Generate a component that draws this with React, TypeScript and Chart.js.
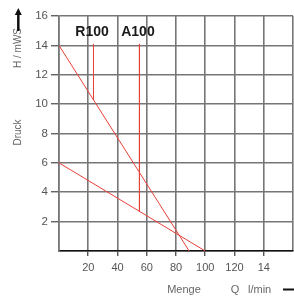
import React, { useEffect, useRef } from 'react';
import { Chart, registerables } from 'chart.js';

Chart.register(...registerables);

// ---- data ----
const flowR100 = [0, 89];
const headR100 = [14, 0];
const flowA100 = [0, 100];
const headA100 = [6, 0];

const markerNames = ['R100', 'A100'];
const markerFlow = [23.6, 55];
const markerTop = [14.1, 14.1];
const markerBottom = [10.3, 2.7];
const markerLabelHead = 14.9;

const xTickValues = [20, 40, 60, 80, 100, 120, 140];
const xTickLabels = ['20', '40', '60', '80', '100', '120', '14'];
const yTickValues = [2, 4, 6, 8, 10, 12, 14, 16];
const yTickLabels = ['2', '4', '6', '8', '10', '12', '14', '16'];

const yTitle = 'H / mWS';
const yTitle2 = 'Druck';
const xTitle = 'Menge';
const xUnitSymbol = 'Q';
const xUnit = 'l/min';

const FONT = '"Liberation Sans", Arial, Helvetica, sans-serif';
const RED = '#e8403a';
const GRID = '#767676';

const toPoints = (xs: number[], ys: number[]) => xs.map((x, i) => ({ x, y: ys[i] }));

const decorPlugin = {
  id: 'decor',
  afterDraw(chart: any) {
    const ctx = chart.ctx;
    const xs = chart.scales.x;
    const ys = chart.scales.y;
    ctx.save();

    // marker labels
    ctx.fillStyle = '#1a1a1a';
    ctx.font = `bold 14px ${FONT}`;
    ctx.textAlign = 'center';
    ctx.textBaseline = 'middle';
    markerNames.forEach((name, i) => {
      ctx.fillText(name, xs.getPixelForValue(markerFlow[i]) - 1.5, ys.getPixelForValue(markerLabelHead));
    });

    // y titles (rotated)
    ctx.fillStyle = '#666';
    ctx.save();
    ctx.translate(18.5, 48);
    ctx.rotate(-Math.PI / 2);
    ctx.font = `10px ${FONT}`;
    ctx.fillText(yTitle, 0, 0);
    ctx.restore();

    ctx.save();
    ctx.translate(18, 132.5);
    ctx.rotate(-Math.PI / 2);
    ctx.font = `10px ${FONT}`;
    ctx.fillText(yTitle2, 0, 0);
    ctx.restore();

    // arrow
    ctx.strokeStyle = '#111';
    ctx.fillStyle = '#111';
    ctx.lineWidth = 2.5;
    ctx.beginPath();
    ctx.moveTo(18.3, 31);
    ctx.lineTo(18.3, 13);
    ctx.stroke();
    ctx.beginPath();
    ctx.moveTo(18.3, 8);
    ctx.lineTo(14.8, 15);
    ctx.lineTo(21.8, 15);
    ctx.closePath();
    ctx.fill();

    // x titles
    ctx.fillStyle = '#666';
    ctx.font = `11px ${FONT}`;
    ctx.textAlign = 'center';
    ctx.fillText(xTitle, 184, 289.5);
    ctx.fillText(xUnitSymbol, 235, 289.5);
    ctx.textAlign = 'left';
    ctx.fillText(xUnit, 248, 289.5);

    // dash
    ctx.strokeStyle = '#111';
    ctx.lineWidth = 2;
    ctx.beginPath();
    ctx.moveTo(283, 289.5);
    ctx.lineTo(294, 289.5);
    ctx.stroke();

    ctx.restore();
  },
};

export default function App() {
  const ref = useRef<HTMLCanvasElement | null>(null);

  useEffect(() => {
    if (!ref.current) return;
    const datasets: any[] = [
      { data: toPoints(flowR100, headR100) },
      { data: toPoints(flowA100, headA100) },
      ...markerFlow.map((f, i) => ({
        data: toPoints([f, f], [markerTop[i], markerBottom[i]]),
      })),
    ].map((d) => ({
      ...d,
      showLine: true,
      borderColor: RED,
      borderWidth: 1,
      pointRadius: 0,
      fill: false,
    }));

    const chart = new Chart(ref.current, {
      type: 'scatter',
      data: { datasets },
      options: {
        animation: false,
        responsive: false,
        events: [],
        layout: { padding: { top: 16, left: 0, right: 1, bottom: 0 } },
        plugins: { legend: { display: false }, tooltip: { enabled: false } },
        scales: {
          x: {
            type: 'linear',
            min: 0,
            max: 160,
            afterFit: (s: any) => {
              s.height = 47;
              s.paddingLeft = 0;
              s.paddingRight = 0;
            },
            afterBuildTicks: (s: any) => {
              const vals = [0, ...xTickValues, 160];
              s.ticks = vals.map((v) => ({ value: v }));
            },
            ticks: {
              autoSkip: false,
              maxRotation: 0,
              padding: 5,
              color: '#555',
              font: { family: FONT, size: 11 },
              callback: (v: any) => {
                const i = xTickValues.indexOf(Number(v));
                return i >= 0 ? xTickLabels[i] : '';
              },
            },
            grid: {
              color: GRID,
              lineWidth: 1.6,
              tickLength: 5,
              tickWidth: 1,
              tickColor: (c: any) => (c.tick && (c.tick.value === 0 || c.tick.value === 160) ? 'rgba(0,0,0,0)' : '#111'),
            },
            border: { color: '#111', width: 1.5 },
          },
          y: {
            type: 'linear',
            min: 0,
            max: 16,
            afterFit: (s: any) => {
              s.width = 59;
              s.paddingTop = 0;
              s.paddingBottom = 0;
            },
            afterBuildTicks: (s: any) => {
              s.ticks = [0, ...yTickValues].map((v) => ({ value: v }));
            },
            ticks: {
              autoSkip: false,
              padding: 3,
              color: '#555',
              font: { family: FONT, size: 11.5 },
              callback: (v: any) => {
                const i = yTickValues.indexOf(Number(v));
                return i >= 0 ? yTickLabels[i] : '';
              },
            },
            grid: {
              color: GRID,
              lineWidth: 1.6,
              tickLength: 8,
              tickWidth: 1,
              tickColor: (c: any) => (c.tick && c.tick.value === 0 ? 'rgba(0,0,0,0)' : '#222'),
            },
            border: { color: GRID, width: 1.6 },
          },
        },
      },
      plugins: [decorPlugin],
    } as any);

    return () => chart.destroy();
  }, []);

  return (
    <div style={{ position: 'absolute', left: 0, top: 0, width: 294, height: 298, background: '#fff' }}>
      <canvas ref={ref} width={294} height={298} style={{ display: 'block' }} />
    </div>
  );
}
